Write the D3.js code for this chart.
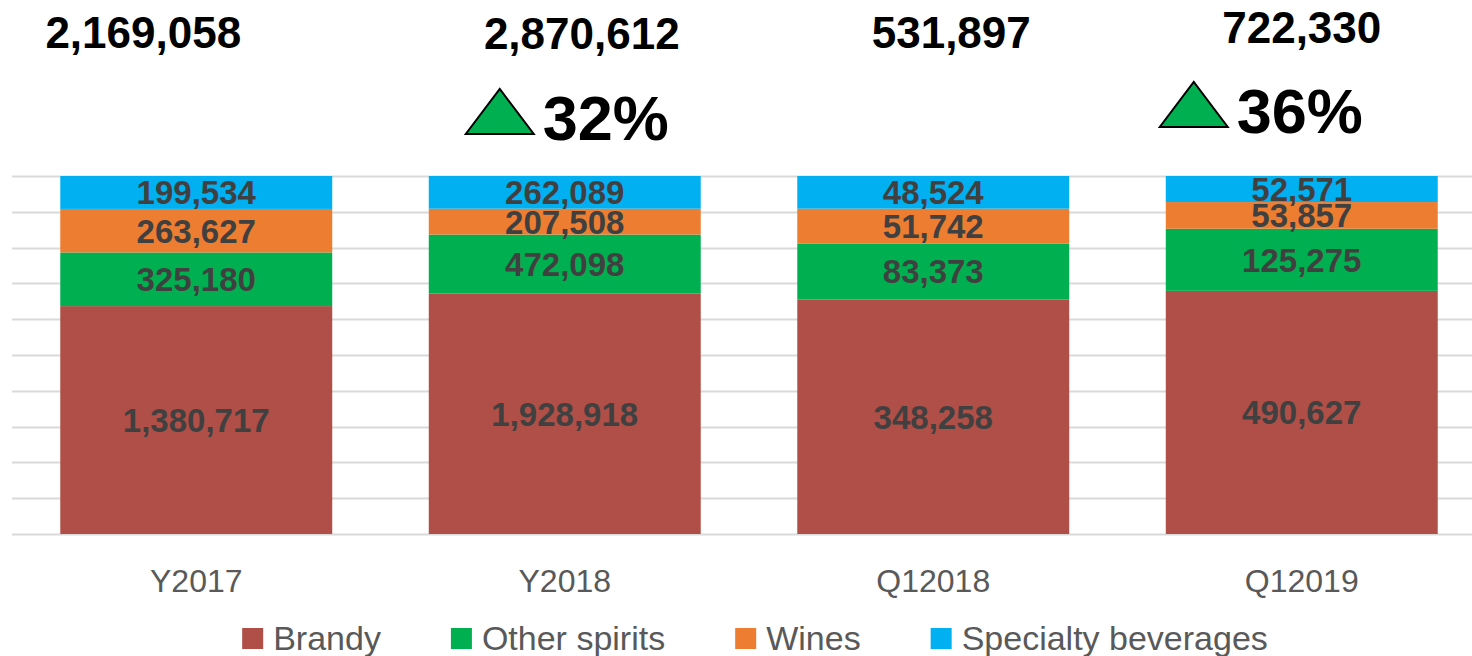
<!DOCTYPE html>
<html><head><meta charset="utf-8">
<script src="https://cdn.jsdelivr.net/npm/d3@7"></script>
<style>
html,body{margin:0;padding:0;background:#fff;}
svg{display:block;}
</style></head>
<body>
<svg id="chart" width="1472" height="656"></svg>
<script>
const categories = ["Y2017", "Y2018", "Q12018", "Q12019"];
const seriesNames = ["Brandy", "Other spirits", "Wines", "Specialty beverages"];
const brandy = [1380717, 1928918, 348258, 490627];
const otherSpirits = [325180, 472098, 83373, 125275];
const wines = [263627, 207508, 51742, 53857];
const specialty = [199534, 262089, 48524, 52571];
const totals = [2169058, 2870612, 531897, 722330];
const growthLabels = [null, "32%", null, "36%"];
const yTicks = [0, 0.1, 0.2, 0.3, 0.4, 0.5, 0.6, 0.7, 0.8, 0.9, 1.0];

const colors = ["#AF4F47", "#00B050", "#ED7D31", "#00B0F0"];
// annotation placement offsets (layout, px relative to bar centre)
const totalDx = [-53, 17, 18, 0];
const totalBaseline = [48, 49, 48, 43];
const growthDx = [0, -65, 0, -108];
const growthBaseline = [0, 140, 0, 133];

const FONT = "'Liberation Sans', Arial, sans-serif";
const svg = d3.select("#chart");

const x = d3.scaleBand().domain(categories).range([12, 1486]).paddingInner(0.262).paddingOuter(0.131);
const y = d3.scaleLinear().domain([0, 1]).range([534, 176]);

// gridlines
svg.append("g").selectAll("line").data(yTicks).join("line")
  .attr("x1", 12).attr("x2", 1472)
  .attr("y1", d => Math.round(y(d)) + 0.5).attr("y2", d => Math.round(y(d)) + 0.5)
  .attr("stroke", "#D9D9D9").attr("stroke-width", 2);

const seriesData = [brandy, otherSpirits, wines, specialty];
const rows = categories.map((c, i) => {
  const r = {cat: c};
  seriesNames.forEach((s, j) => r[s] = seriesData[j][i]);
  return r;
});
const stack = d3.stack().keys(seriesNames).offset(d3.stackOffsetExpand);
const stacked = stack(rows);

const layers = svg.append("g").selectAll("g").data(stacked).join("g")
  .attr("fill", (d, i) => colors[i]);
layers.selectAll("rect").data(d => d).join("rect")
  .attr("x", d => x(d.data.cat))
  .attr("width", x.bandwidth())
  .attr("y", d => y(d[1]))
  .attr("height", d => y(d[0]) - y(d[1]));

// segment labels
const fmt = d3.format(",");
const lab = svg.append("g");
stacked.forEach((layer) => {
  layer.forEach(d => {
    lab.append("text")
      .attr("x", x(d.data.cat) + x.bandwidth() / 2)
      .attr("y", (y(d[0]) + y(d[1])) / 2)
      .attr("dy", "0.36em")
      .attr("text-anchor", "middle")
      .attr("font-family", FONT).attr("font-weight", "bold")
      .attr("font-size", 33).attr("fill", "#404040")
      .text(fmt(d.data[layer.key]));
  });
});

// x-axis labels
const xAxis = d3.axisBottom(x).tickSize(0).tickPadding(0);
const gx = svg.append("g").attr("transform", "translate(0,534)").call(xAxis);
gx.select(".domain").remove();
gx.selectAll("text")
  .attr("y", 58).attr("dy", 0)
  .attr("font-family", FONT).attr("font-size", 32).attr("fill", "#595959");

// totals and growth annotations
categories.forEach((c, i) => {
  svg.append("text")
    .attr("x", x(c) + x.bandwidth() / 2 + totalDx[i])
    .attr("y", totalBaseline[i])
    .attr("text-anchor", "middle")
    .attr("font-family", FONT).attr("font-weight", "bold")
    .attr("font-size", 44).attr("fill", "#000")
    .text(fmt(totals[i]));
  if (growthLabels[i]) {
    const cx = x(c) + x.bandwidth() / 2 + growthDx[i];
    const base = growthBaseline[i] - 6;
    svg.append("path")
      .attr("d", `M${cx - 34},${base} L${cx},${base - 45} L${cx + 34},${base} Z`)
      .attr("fill", "#00B050").attr("stroke", "#000").attr("stroke-width", 2)
      .attr("stroke-linejoin", "miter");
    svg.append("text")
      .attr("x", cx + 43)
      .attr("y", growthBaseline[i])
      .attr("font-family", FONT).attr("font-weight", "bold")
      .attr("font-size", 63).attr("fill", "#000")
      .text(growthLabels[i]);
  }
});

// legend
const leg = svg.append("g");
const items = seriesNames.map((s, i) => {
  const g = leg.append("g");
  g.append("rect").attr("width", 21).attr("height", 21).attr("y", -22).attr("fill", colors[i]);
  const t = g.append("text").attr("x", 31).attr("y", 0)
    .attr("font-family", FONT).attr("font-size", 34).attr("fill", "#595959").text(s);
  return {g, w: 31 + t.node().getComputedTextLength()};
});
const gap = 70;
const totalW = d3.sum(items, d => d.w) + gap * (items.length - 1);
let cursor = 755 - totalW / 2;
items.forEach(it => {
  it.g.attr("transform", `translate(${cursor},650)`);
  cursor += it.w + gap;
});
</script>
</body></html>
